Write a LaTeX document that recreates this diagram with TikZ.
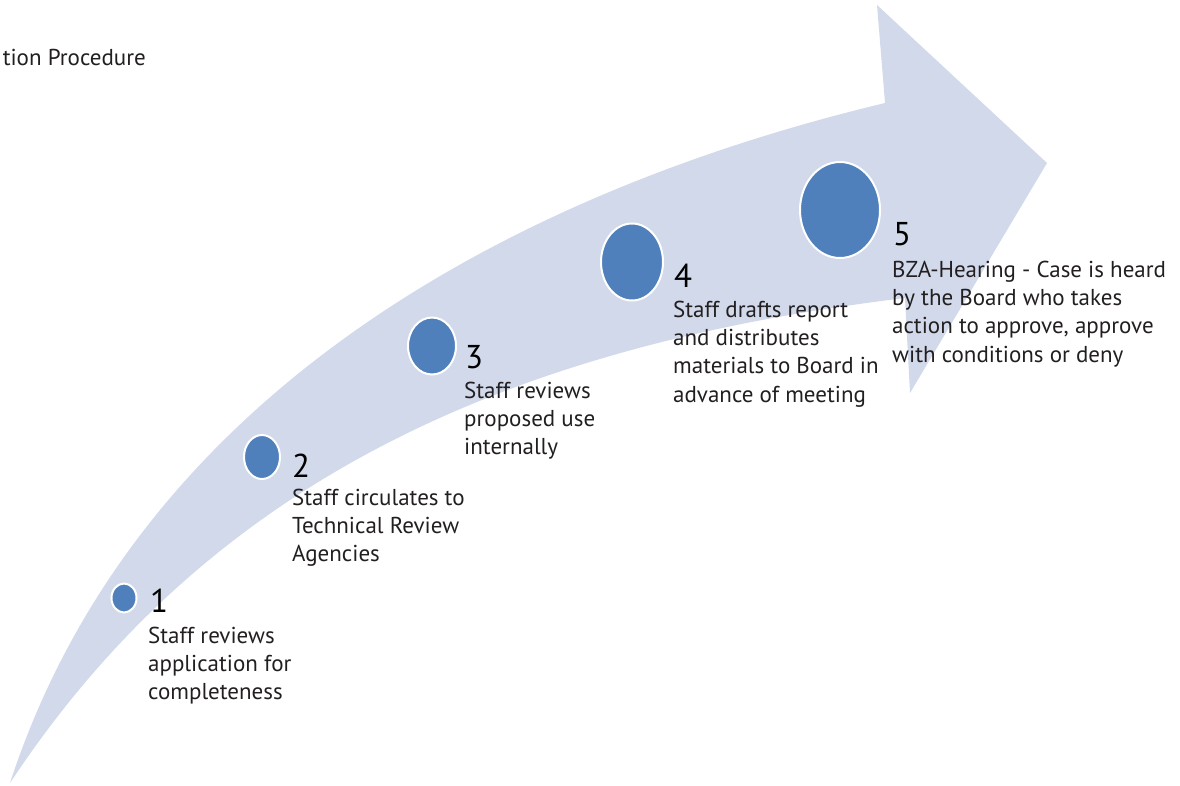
\documentclass[tikz,border=0pt]{standalone}
\usepackage{fontspec}
\setmainfont{PT Sans}
\usetikzlibrary{shapes.geometric}
\definecolor{arrowfill}{RGB}{209,217,234}
\definecolor{dotfill}{RGB}{79,128,188}
\definecolor{txt}{RGB}{35,31,32}
\tikzset{
  dot/.style={ellipse, fill=dotfill, draw=white, line width=2pt, inner sep=0pt},
  num/.style={anchor=base west, inner sep=0pt, text=black, font=\fontsize{33}{36}\selectfont},
  desc/.style={anchor=north west, inner sep=0pt, align=left, text=txt, font=\fontsize{23}{28.3}\selectfont},
}
\begin{document}
\begin{tikzpicture}[x=1pt,y=-1pt]
\useasboundingbox (0,0) rectangle (1180,785);
% big curved arrow
\coordinate (tail) at (10,783);
\coordinate (hbU) at (885,103);
\coordinate (hU) at (877,5);
\coordinate (tip) at (1047,163);
\coordinate (hL) at (910,393);
\coordinate (hbL) at (905,298);
\fill[arrowfill] (tail) .. controls (134,403) and (497,196) .. (hbU)
  -- (hU) -- (tip) -- (hL) -- (hbL)
  .. controls (509,346) and (210,480) .. (tail) -- cycle;
% title
\node[anchor=base east, inner sep=0pt, text=txt, font=\fontsize{23}{28}\selectfont] (title) at (146,65) {tion Procedure};
% dots
\node[dot, minimum width=25pt, minimum height=29pt] (c1) at (124,598) {};
\node[dot, minimum width=36pt, minimum height=44pt] (c2) at (262,457) {};
\node[dot, minimum width=48pt, minimum height=57pt] (c3) at (432,346) {};
\node[dot, minimum width=62pt, minimum height=77pt] (c4) at (632,262) {};
\node[dot, minimum width=80pt, minimum height=96pt] (c5) at (840,210) {};
% numbers
\node[num] (n1) at (150,612) {1};
\node[num] (n2) at (292,477) {2};
\node[num] (n3) at (465,368) {3};
\node[num] (n4) at (674,287) {4};
\node[num] (n5) at (893,245) {5};
% descriptions
\node[desc] (t1) at (148,643-19.81) {\strut Staff reviews\\application for\\completeness};
\node[desc] (t2) at (292,505-19.81) {\strut Staff circulates to\\Technical Review\\Agencies};
\node[desc] (t3) at (464,398-19.81) {\strut Staff reviews\\proposed use\\internally};
\node[desc] (t4) at (673,317-19.81) {\strut Staff drafts report\\and distributes\\materials to Board in\\advance of meeting};
\node[desc] (t5) at (892,277-19.81) {\strut BZA-Hearing - Case is heard\\by the Board who takes\\action to approve, approve\\with conditions or deny};
\end{tikzpicture}
\end{document}
